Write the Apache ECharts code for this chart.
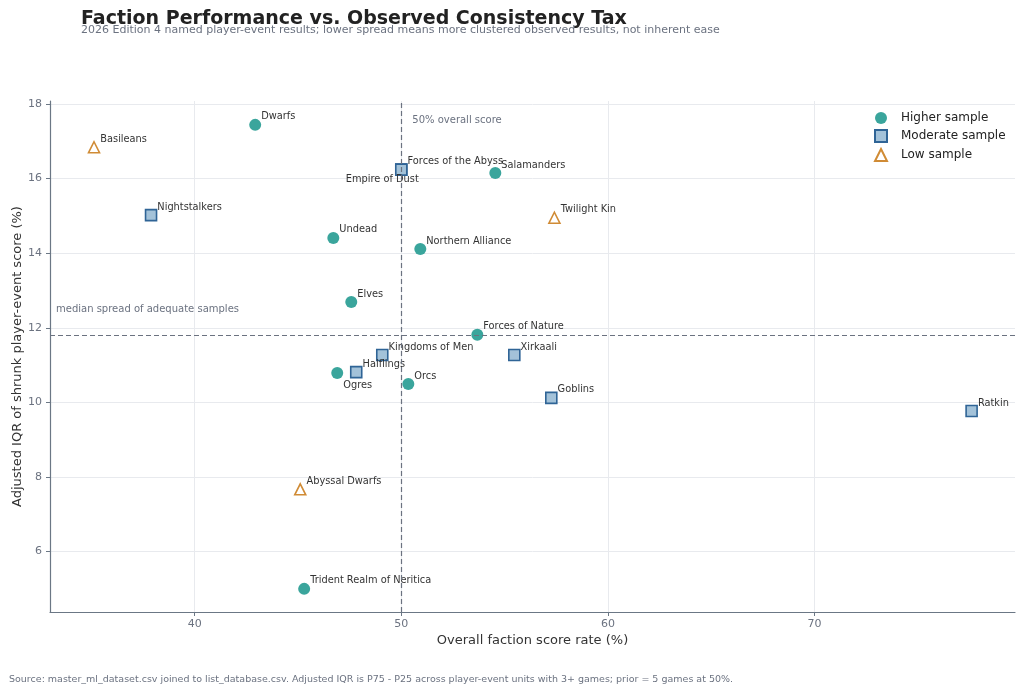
<!DOCTYPE html>
<html>
<head>
<meta charset="utf-8">
<script src="https://cdn.jsdelivr.net/npm/echarts@6/dist/echarts.min.js"></script>
<style>
  html, body { margin: 0; padding: 0; background: #fff; }
  #chart { width: 1024px; height: 693px; }
</style>
</head>
<body>
<div id="chart"></div>
<script>
// faction points
const higherNames = ['Dwarfs', 'Salamanders', 'Undead', 'Northern Alliance', 'Elves', 'Forces of Nature', 'Ogres', 'Orcs', 'Trident Realm of Neritica']
const higherX = [42.93, 54.55, 46.71, 50.92, 47.58, 53.68, 46.90, 50.34, 45.30]
const higherY = [17.44, 16.15, 14.41, 14.11, 12.69, 11.81, 10.79, 10.49, 5.00]

const moderateNames = ['Forces of the Abyss', 'Empire of Dust', 'Nightstalkers', 'Kingdoms of Men', 'Xirkaali', 'Halflings', 'Goblins', 'Ratkin']
const moderateX = [50.00, 50.00, 37.89, 49.08, 55.47, 47.82, 57.26, 77.60]
const moderateY = [16.24, 16.24, 15.02, 11.27, 11.27, 10.81, 10.12, 9.77]

const lowNames = ['Basileans', 'Twilight Kin', 'Abyssal Dwarfs']
const lowX = [35.13, 57.41, 45.11]
const lowY = [16.84, 14.95, 7.67]

const overallLine = 50
const medianSpread = 11.81

const FONT = 'DejaVu Sans'
const GRAY = '#6b7280'

// a couple of labels sit below the marker in the original
const labelTweaks = {
  'Ogres': { position: 'right', distance: 0, offset: [0, 13] },
  'Empire of Dust': { position: 'bottom', distance: 0, offset: [-19, -1] },
}

function pointLabel() {
  return {
    show: true,
    formatter: '{b}',
    position: 'right',
    distance: 0,
    offset: [0, -8],
    fontFamily: FONT,
    fontSize: 9.8,
    color: '#333333',
    opacity: 1,
  }
}

function points(names, xs, ys) {
  return names.map((n, i) => {
    const p = { name: n, value: [xs[i], ys[i]] }
    if (labelTweaks[n]) p.label = Object.assign(pointLabel(), labelTweaks[n])
    return p
  })
}

const chart = echarts.init(document.getElementById('chart'))

const axisCommon = {
  type: 'value',
  nameLocation: 'middle',
  nameMoveOverlap: false,
  nameTextStyle: { fontFamily: FONT, fontSize: 13, color: '#333' },
  axisLine: { show: true, lineStyle: { color: '#6b7785', width: 1.2 } },
  axisTick: { show: true, length: 4, lineStyle: { color: '#6b7785' } },
  splitLine: { show: true, showMinLine: false, showMaxLine: false, lineStyle: { color: '#e8eaee', width: 1 } },
}

const option = {
  animation: false,
  textStyle: { fontFamily: FONT },
  title: [
    {
      text: 'Faction Performance vs. Observed Consistency Tax',
      left: 76, top: 5,
      textStyle: { fontFamily: FONT, fontSize: 19, fontWeight: 'bold', color: '#222' },
    },
    {
      text: '2026 Edition 4 named player-event results; lower spread means more clustered observed results, not inherent ease',
      left: 76, top: 20,
      textStyle: { fontFamily: FONT, fontSize: 11, fontWeight: 'normal', color: GRAY },
    },
    {
      text: 'Source: master_ml_dataset.csv joined to list_database.csv. Adjusted IQR is P75 - P25 across player-event units with 3+ games; prior = 5 games at 50%.',
      left: 4, top: 670,
      textStyle: { fontFamily: FONT, fontSize: 9.5, fontWeight: 'normal', color: GRAY },
    },
  ],
  legend: {
    orient: 'vertical',
    left: 869, top: 107,
    itemWidth: 12, itemHeight: 12, itemGap: 5,
    textStyle: { fontFamily: FONT, fontSize: 12, color: '#222', padding: [0, 0, 0, 9] },
    data: ['Higher sample', 'Moderate sample', 'Low sample'],
  },
  grid: { left: 50, right: 9, top: 101, bottom: 81, outerBoundsMode: 'none', containLabel: false },
  xAxis: Object.assign({}, axisCommon, {
    min: 33, max: 79.7,
    minInterval: 10, maxInterval: 10,
    name: 'Overall faction score rate (%)',
    nameGap: 22,
    axisLabel: { showMinLabel: false, showMaxLabel: false, margin: 7, fontFamily: FONT, fontSize: 11, color: GRAY },
  }),
  yAxis: Object.assign({}, axisCommon, {
    min: 4.38, max: 18.08,
    minInterval: 2, maxInterval: 2,
    name: 'Adjusted IQR of shrunk player-event score (%)',
    nameGap: 26,
    axisLabel: { showMinLabel: false, showMaxLabel: false, margin: 8, fontFamily: FONT, fontSize: 11, color: GRAY },
  }),
  series: [
    {
      name: 'Higher sample',
      type: 'scatter',
      symbol: 'circle',
      symbolSize: 12,
      itemStyle: { color: '#3aa59c', opacity: 1 },
      label: pointLabel(),
      data: points(higherNames, higherX, higherY),
      markLine: {
        silent: true,
        symbol: 'none',
        label: { show: false },
        lineStyle: { color: '#6b7280', type: [5, 3], width: 1.2 },
        data: [{ xAxis: overallLine }, { yAxis: medianSpread }],
      },
      z: 2,
    },
    {
      name: 'Moderate sample',
      type: 'scatter',
      symbol: 'rect',
      symbolSize: 11,
      itemStyle: { color: '#a3c2d9', borderColor: '#2f6496', borderWidth: 1.6, opacity: 1 },
      label: pointLabel(),
      data: points(moderateNames, moderateX, moderateY),
      z: 3,
    },
    {
      name: 'Low sample',
      type: 'scatter',
      symbol: 'triangle',
      symbolSize: 11,
      itemStyle: { color: '#ffffff', borderColor: '#d08b35', borderWidth: 1.6, opacity: 1 },
      label: pointLabel(),
      data: points(lowNames, lowX, lowY),
      z: 4,
    },
  ],
}

chart.setOption(option)

// annotation text next to the reference lines
const topLeft = chart.convertToPixel({ gridIndex: 0 }, [overallLine, 18.08])
const medianPx = chart.convertToPixel({ gridIndex: 0 }, [33, medianSpread])
chart.setOption({
  graphic: [
    {
      type: 'text', x: topLeft[0] + 11, y: topLeft[1] + 14,
      style: { text: '50% overall score', fontFamily: FONT, fontSize: 10, fill: GRAY },
    },
    {
      type: 'text', x: medianPx[0] + 6, y: medianPx[1] - 30,
      style: { text: 'median spread of adequate samples', fontFamily: FONT, fontSize: 10, fill: GRAY },
    },
  ],
})
</script>
</body>
</html>
